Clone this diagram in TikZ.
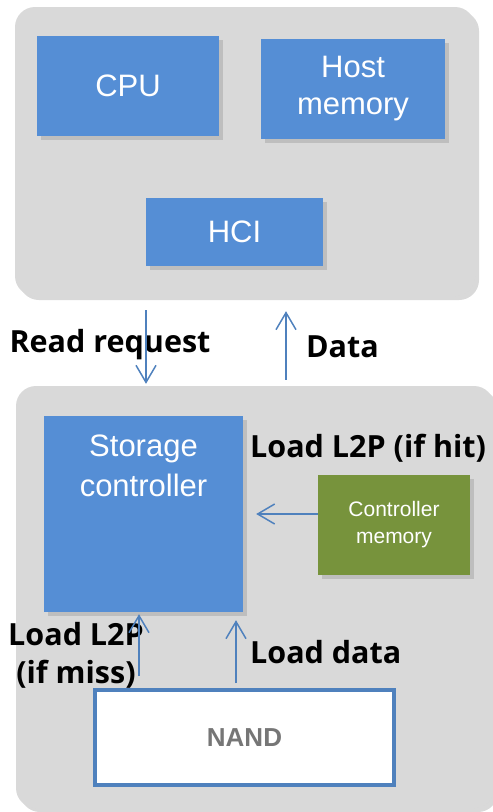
\documentclass[tikz,border=0pt]{standalone}
\usepackage{fontspec}
\setmainfont{Liberation Sans}
\newfontfamily\labelfont{Open Sans}
\usepackage{tikz}
\usetikzlibrary{arrows.meta, positioning, shadows}

\definecolor{boxblue}{RGB}{85,142,213}
\definecolor{panelgray}{RGB}{217,217,217}
\definecolor{ctrlgreen}{RGB}{119,147,60}
\definecolor{arrowblue}{RGB}{79,129,189}
\definecolor{nandgray}{RGB}{118,118,118}

\begin{document}
\begin{tikzpicture}[
    x=1pt, y=-1pt,
    shade/.style={drop shadow={shadow xshift=4pt, shadow yshift=-4pt, opacity=0.3}},
    panel/.style={rectangle, fill=panelgray, rounded corners=20pt, shade},
    box/.style={rectangle, fill=boxblue, text=white, align=center, font=\fontsize{31}{37}\selectfont, shade},
    lbl/.style={font=\labelfont\bfseries\fontsize{30.5}{38}\selectfont, align=center, inner sep=0pt},
    arrow/.style={draw=arrowblue, line width=1.5pt, -{Straight Barb[length=17pt, width=20pt]}}
]
    \useasboundingbox (0,0) rectangle (493,812);

    % Host side
    \node[panel, minimum width=460pt, minimum height=289pt] (host) at (245,151.5) {};
    \node[box, minimum width=182pt, minimum height=100pt] (cpu) at (128,86) {CPU};
    \node[box, minimum width=184pt, minimum height=100pt] (hmem) at (353,89) {Host\\memory};
    \node[box, minimum width=177pt, minimum height=68pt] (hci) at (234.5,232) {HCI};

    % Storage device
    \node[panel, minimum width=478pt, minimum height=422pt] (dev) at (255,597) {};
    \node[box, minimum width=199pt, minimum height=196pt,
          label={[anchor=north, yshift=-19pt, inner sep=0pt, align=center, text=white,
                  font=\fontsize{31}{40}\selectfont]north:{Storage\\controller}}] (sc) at (143.5,514) {};
    \node[box, fill=ctrlgreen, minimum width=152pt, minimum height=100pt,
          font=\fontsize{21}{27}\selectfont] (cmem) at (394,525) {Controller\\memory};
    \node[rectangle, draw=arrowblue, line width=4pt, fill=white, minimum width=299pt, minimum height=95pt,
          text=nandgray, font=\bfseries\fontsize{26}{30}\selectfont] (nand) at (244.5,737.5) {NAND};

    % Labels
    \node[lbl, anchor=base] (rqlbl) at (110,352) {Read request};
    \node[lbl, anchor=base] (dtlbl) at (342.5,357) {Data};
    \node[lbl, anchor=base west] (hitlbl) at (250,457) {Load L2P (if hit)};
    \node[lbl, anchor=base] (misslbl) at (76,683) {Load L2P\\(if miss)};
    \node[lbl, anchor=base west] (ldlbl) at (250,663) {Load data};

    % Connectors
    \coordinate (rq) at (146,0);
    \coordinate (dt) at (286,0);
    \coordinate (miss) at (139,0);
    \coordinate (ld) at (236,0);
    \draw[arrow, shorten <=14pt, shorten >=2pt] (host.south -| rq) -- (dev.north -| rq);
    \draw[arrow, shorten <=6pt, shorten >=15pt] (dev.north -| dt) -- (host.south -| dt);
    \draw[arrow, shorten >=13pt] ([yshift=11pt]cmem.west) -- ([yshift=11pt]cmem.west -| sc.east);
    \draw[arrow, shorten <=12pt, shorten >=2pt] (nand.north -| miss) -- (sc.south -| miss);
    \draw[arrow, shorten <=5pt, shorten >=8pt] (nand.north -| ld) -- (sc.south -| ld);
\end{tikzpicture}
\end{document}
